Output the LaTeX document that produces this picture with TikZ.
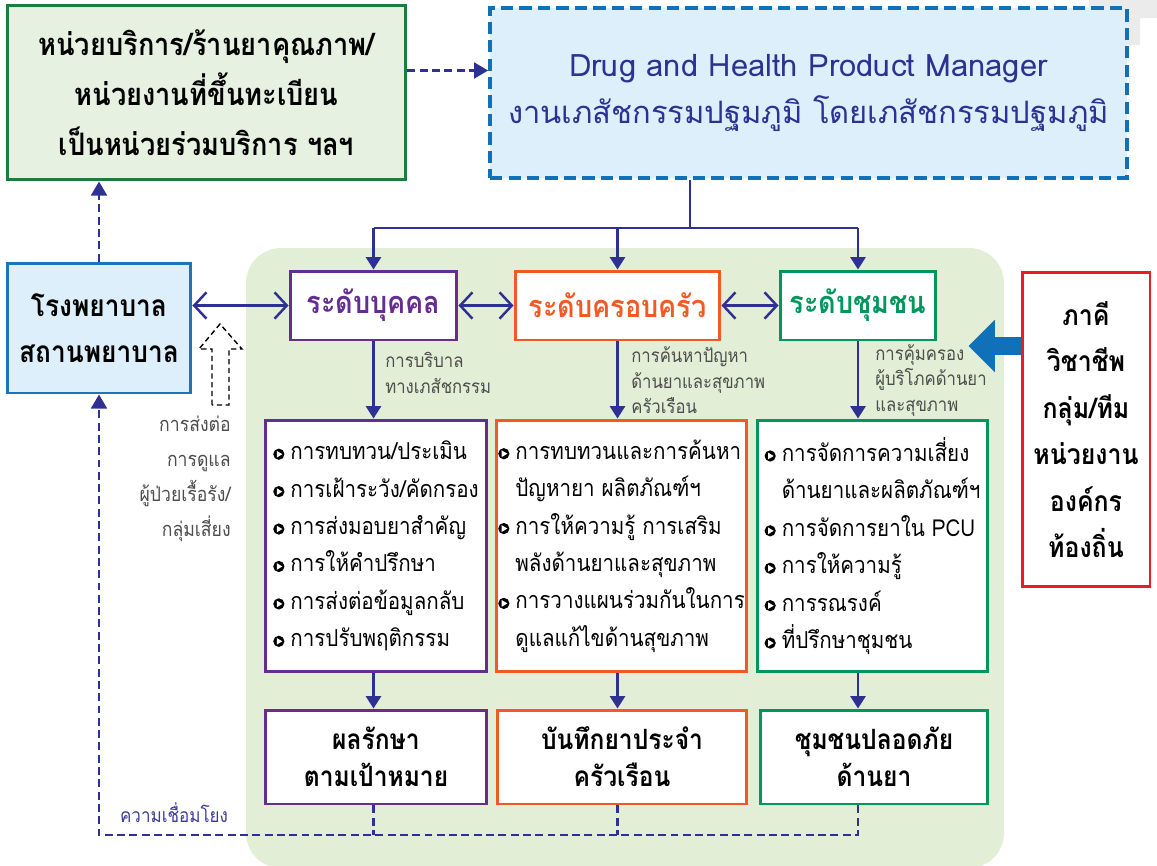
\documentclass[tikz,border=0pt]{standalone}
\usepackage{fontspec}
\setmainfont[Script=Thai, FakeStretch=0.88]{Loma}
\newfontfamily\titlefont[Script=Thai]{Loma}
\usetikzlibrary{arrows.meta}
\definecolor{navy}{HTML}{2E3192}
\definecolor{dhpmblue}{HTML}{1070B8}
\definecolor{lightblue}{HTML}{DCEFFA}
\definecolor{svcgreen}{HTML}{1B7E3B}
\definecolor{svcfill}{HTML}{E6F1E1}
\definecolor{bggreen}{HTML}{E2EED5}
\definecolor{bggray}{HTML}{EBEBEB}
\definecolor{hospblue}{HTML}{1B75BB}
\definecolor{lvpurple}{HTML}{662D91}
\definecolor{lvorange}{HTML}{F15A24}
\definecolor{lvgreen}{HTML}{00965E}
\definecolor{partnerred}{HTML}{ED1C24}
\definecolor{notegray}{HTML}{4D4D4D}
\definecolor{linkblue}{HTML}{3B3C9A}
\newcommand{\itemmark}{\tikz[baseline=-0.45ex,x=1pt,y=1pt]{\fill[black] (0,0) circle (3.2pt); \fill[white] (-1.2,1.9) -- (2,0) -- (-1.2,-1.9) -- cycle;}\hspace{3.4pt}}
\newcommand{\itemcont}{\hspace*{9.8pt}}
\tikzset{
  box/.style={draw, line width=1.7pt, fill=white, align=center, inner sep=0pt},
  level/.style={box, draw=#1, text=#1, minimum height=1.38cm, font=\fontsize{17.5}{20}\selectfont\bfseries},
  listbox/.style={box, draw=#1, align=left, minimum height=5.04cm, font=\fontsize{13.3}{21.3}\selectfont},
  resultbox/.style={box, draw=#1, minimum height=1.88cm, font=\fontsize{15.9}{21}\selectfont\bfseries},
  note/.style={align=left, inner sep=0pt, text=notegray, font=\fontsize{10.8}{14.5}\selectfont},
  flow/.style={navy, line width=1.4pt, -{Triangle[length=7pt,width=8.5pt]}},
  twoway/.style={navy, line width=1.4pt, {Straight Barb[length=7pt,width=15pt]}-{Straight Barb[length=7pt,width=15pt]}},
  link/.style={navy, line width=1.4pt, dash pattern=on 4.5pt off 2.5pt},
  linkarrow/.style={link, -{Triangle[length=8pt,width=9pt]}}
}
\begin{document}
\begin{tikzpicture}[x=0.02cm, y=-0.02cm]
\useasboundingbox (0,0) rectangle (1157,866);
% background shapes
\fill[bggray] (1089,0) -- (1157,0) -- (1157,18) -- (1140,18) -- (1140,45) -- (1089,45) -- cycle;
\fill[bggreen, rounded corners=0.7cm] (246,248) rectangle (1004,868);

% top row
\node[box, draw=svcgreen, fill=svcfill, minimum width=7.98cm, minimum height=3.5cm,
  font=\fontsize{17.6}{28.5}\selectfont\bfseries] (svc) at (206.5,92.5)
  {หน่วยบริการ/ร้านยาคุณภาพ/\\หน่วยงานที่ขึ้นทะเบียน\\เป็นหน่วยร่วมบริการ ฯลฯ};
\node[box, draw=dhpmblue, fill=lightblue, line width=2.2pt, dash pattern=on 7pt off 3.5pt,
  minimum width=12.74cm, minimum height=3.4cm, text=navy,
  font=\titlefont\fontsize{17.6}{26.7}\selectfont] (dhpm) at (808.5,93)
  {Drug and Health Product Manager\\งานเภสัชกรรมปฐมภูมิ โดยเภสัชกรรมปฐมภูมิ};
\draw[linkarrow] ([yshift=0.44cm]svc.east) -- ([yshift=0.44cm]svc.east -| dhpm.west);

% levels
\node[box, draw=hospblue, fill=lightblue, minimum width=3.68cm, minimum height=2.6cm,
  font=\fontsize{17}{26}\selectfont\bfseries] (hosp) at (99,328) {โรงพยาบาล\\สถานพยาบาล};
\node[level=lvpurple, minimum width=3.34cm] (indiv) at (373.5,305.5) {ระดับบุคคล};
\node[level=lvorange, minimum width=4.1cm] (family) at (617.5,305.5) {ระดับครอบครัว};
\node[level=lvgreen, minimum width=3.12cm] (comm) at (858,305.5) {ระดับชุมชน};
\node[box, draw=partnerred, minimum width=2.56cm, minimum height=6.3cm,
  font=\fontsize{16.1}{26.5}\selectfont\bfseries] (partner) at (1086,429.5)
  {ภาคี\\วิชาชีพ\\กลุ่ม/ทีม\\หน่วยงาน\\องค์กร\\ท้องถิ่น};

\coordinate (split) at (690,228);
\draw[navy, line width=1.4pt] (dhpm.south -| split) -- (split);
\draw[navy, line width=1.4pt] (indiv |- split) -- (comm |- split);
\foreach \lv in {indiv, family, comm}
  \draw[flow] (\lv |- split) -- (\lv.north);
\draw[twoway] (hosp.east |- indiv) -- (indiv.west);
\draw[twoway] (indiv.east) -- (family.west);
\draw[twoway] (family.east) -- (comm.west);
\draw[dhpmblue, line width=10pt, -{Triangle[length=15pt,width=29pt]}] ([yshift=1.67cm]partner.west) -- ++(-52,0);

% referral
\draw[black, line width=0.8pt, dash pattern=on 3pt off 2pt] (212,405) -- (212,349) -- (199,349)
  -- (220,324) -- (242,349) -- (229,349) -- (229,405) -- cycle;
\node[note, align=right, anchor=east, font=\fontsize{11.4}{20}\selectfont] (refer) at (231,479)
  {การส่งต่อ\\การดูแล\\ผู้ป่วยเรื้อรัง/\\กลุ่มเสี่ยง};
\draw[linkarrow] (hosp.north) -- (hosp.north |- svc.south);

% activities
\node[listbox=lvpurple, minimum width=4.44cm] (indivlist) at (376,546)
  {\itemmark การทบทวน/ประเมิน\\\itemmark การเฝ้าระวัง/คัดกรอง\\\itemmark การส่งมอบยาสำคัญ\\
   \itemmark การให้คำปรึกษา\\\itemmark การส่งต่อข้อมูลกลับ\\\itemmark การปรับพฤติกรรม};
\node[listbox=lvorange, minimum width=5.02cm] (famlist) at (621.5,546)
  {\itemmark การทบทวนและการค้นหา\\\itemcont ปัญหายา ผลิตภัณฑ์ฯ\\\itemmark การให้ความรู้ การเสริม\\
   \itemcont พลังด้านยาและสุขภาพ\\\itemmark การวางแผนร่วมกันในการ\\\itemcont ดูแลแก้ไขด้านสุขภาพ};
\node[listbox=lvgreen, minimum width=4.62cm] (commlist) at (872.5,546)
  {\itemmark การจัดการความเสี่ยง\\\itemcont ด้านยาและผลิตภัณฑ์ฯ\\\itemmark การจัดการยาใน PCU\\
   \itemmark การให้ความรู้\\\itemmark การรณรงค์\\\itemmark ที่ปรึกษาชุมชน};
\draw[flow] (indiv) -- (indiv |- indivlist.north);
\draw[flow] (family) -- (family |- famlist.north);
\draw[flow] (comm) -- (comm |- commlist.north);
\node[note, anchor=west] (indivnote) at (385,373) {การบริบาล\\ทางเภสัชกรรม};
\node[note, anchor=west] (famnote) at (631,380.5) {การค้นหาปัญหา\\ด้านยาและสุขภาพ\\ครัวเรือน};
\node[note, anchor=west] (commnote) at (875,380.5) {การคุ้มครอง\\ผู้บริโภคด้านยา\\และสุขภาพ};

% results
\node[resultbox=lvpurple, minimum width=4.44cm] (indivres) at (376,757) {ผลรักษา\\ตามเป้าหมาย};
\node[resultbox=lvorange, minimum width=5cm] (famres) at (622,757) {บันทึกยาประจำ\\ครัวเรือน};
\node[resultbox=lvgreen, minimum width=4.56cm] (commres) at (874,757) {ชุมชนปลอดภัย\\ด้านยา};
\draw[flow] (indivlist.south -| indiv) -- (indiv |- indivres.north);
\draw[flow] (famlist.south -| family) -- (family |- famres.north);
\draw[flow] (commlist.south -| comm) -- (comm |- commres.north);

% feedback loop
\coordinate (loop) at (99,835);
\draw[link] (indiv |- indivres.south) -- (indiv |- loop);
\draw[link] (family |- famres.south) -- (family |- loop);
\draw[linkarrow] (comm |- commres.south) -- (comm |- loop) -- (loop) -- (hosp.south);
\node[text=linkblue, inner sep=0pt, font=\fontsize{11}{12}\selectfont] (linklabel) at (174,813) {ความเชื่อมโยง};
\end{tikzpicture}
\end{document}
